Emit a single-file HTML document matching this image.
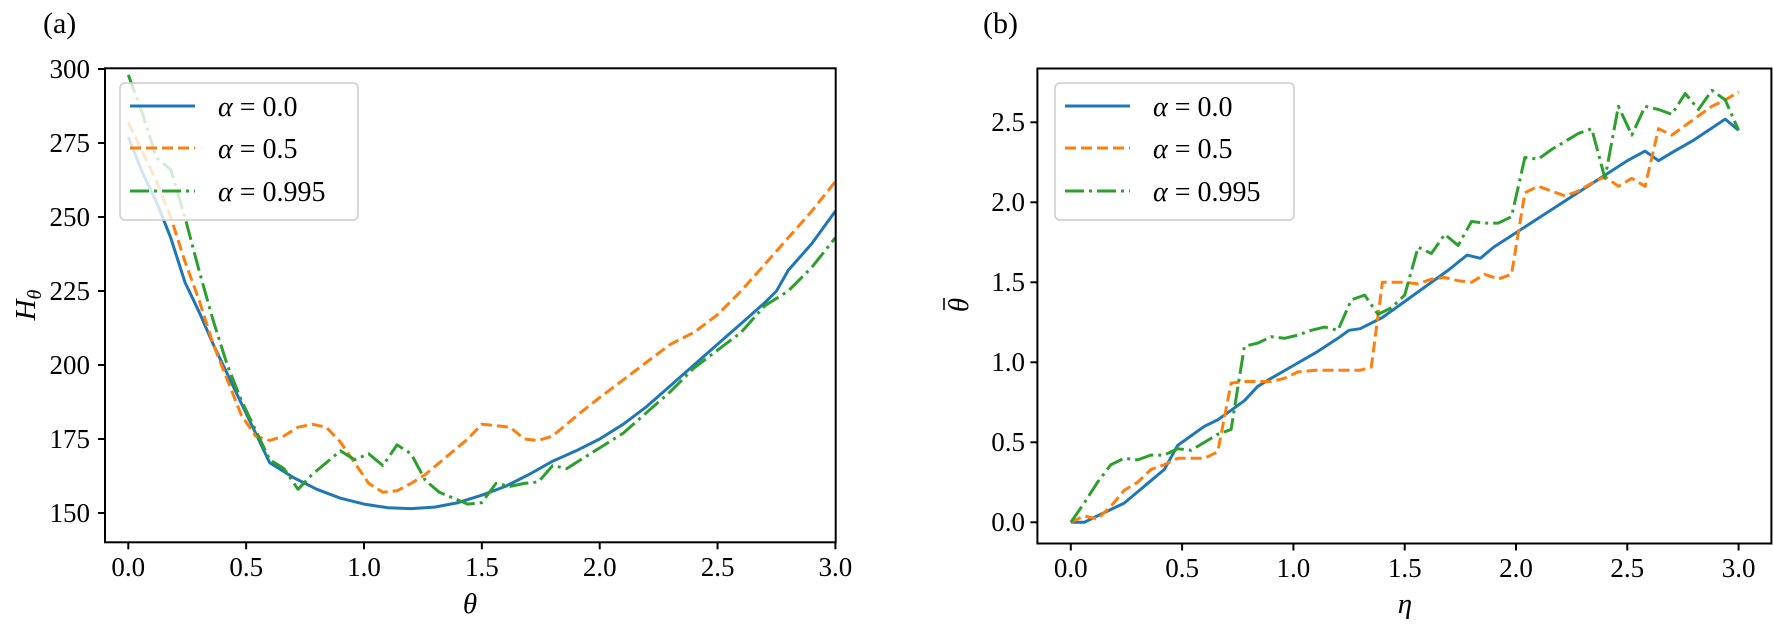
<!DOCTYPE html>
<html><head><meta charset="utf-8"><style>
body{margin:0;background:#fff;}
svg{display:block;font-family:"Liberation Serif","DejaVu Serif",serif;}
</style></head><body>
<svg id="s" width="1773" height="624" viewBox="0 0 1773 624" xmlns="http://www.w3.org/2000/svg">
<rect width="1773" height="624" fill="#fff"/>
<g id="lines"></g>
<g>
<rect x="120" y="83" width="238" height="137" rx="5" fill="#fff" fill-opacity="0.8" stroke="#ccc" stroke-width="1.5"/>
<line x1="130" y1="106" x2="195" y2="106" stroke="#1f77b4" stroke-width="3"/>
<line x1="130" y1="148" x2="195" y2="148" stroke="#ff7f0e" stroke-width="3" stroke-dasharray="11,5"/>
<line x1="130" y1="191" x2="195" y2="191" stroke="#2ca02c" stroke-width="3" stroke-dasharray="19,5,3,5"/>
<g font-size="28" xml:space="preserve"><text x="218" y="116"><tspan font-style="italic">α</tspan>  =  0.0</text>
<text x="218" y="158"><tspan font-style="italic">α</tspan>  =  0.5</text>
<text x="218" y="201"><tspan font-style="italic">α</tspan>  =  0.995</text></g>
<rect x="1055" y="83" width="239" height="137" rx="5" fill="#fff" fill-opacity="0.8" stroke="#ccc" stroke-width="1.5"/>
<line x1="1065" y1="106" x2="1130" y2="106" stroke="#1f77b4" stroke-width="3"/>
<line x1="1065" y1="148" x2="1130" y2="148" stroke="#ff7f0e" stroke-width="3" stroke-dasharray="11,5"/>
<line x1="1065" y1="191" x2="1130" y2="191" stroke="#2ca02c" stroke-width="3" stroke-dasharray="19,5,3,5"/>
<g font-size="28" xml:space="preserve"><text x="1153" y="116"><tspan font-style="italic">α</tspan>  =  0.0</text>
<text x="1153" y="158"><tspan font-style="italic">α</tspan>  =  0.5</text>
<text x="1153" y="201"><tspan font-style="italic">α</tspan>  =  0.995</text></g>
</g>
<rect x="105" y="68.3" width="730.7" height="474" fill="none" stroke="#000" stroke-width="2"/>
<rect x="1037.4" y="68.5" width="734" height="475" fill="none" stroke="#000" stroke-width="2"/>
<g id="ticks" stroke="#000" stroke-width="2"></g>
<g font-size="27" text-anchor="middle">
<text x="128.3" y="576">0.0</text><text x="246.2" y="576">0.5</text><text x="364" y="576">1.0</text><text x="481.9" y="576">1.5</text><text x="599.7" y="576">2.0</text><text x="717.6" y="576">2.5</text><text x="835.4" y="576">3.0</text>
<text x="1070.8" y="577">0.0</text><text x="1182.1" y="577">0.5</text><text x="1293.4" y="577">1.0</text><text x="1404.7" y="577">1.5</text><text x="1516" y="577">2.0</text><text x="1627.3" y="577">2.5</text><text x="1738.6" y="577">3.0</text>
</g>
<g font-size="27" text-anchor="end">
<text x="90" y="522">150</text><text x="90" y="448">175</text><text x="90" y="374">200</text><text x="90" y="300">225</text><text x="90" y="226">250</text><text x="90" y="152">275</text><text x="90" y="78">300</text>
<text x="1025" y="531">0.0</text><text x="1025" y="451">0.5</text><text x="1025" y="371">1.0</text><text x="1025" y="291">1.5</text><text x="1025" y="211">2.0</text><text x="1025" y="131">2.5</text>
</g>
<text x="470" y="613" font-size="29" font-style="italic" text-anchor="middle">θ</text>
<text x="1405" y="613" font-size="29" font-style="italic" text-anchor="middle">η</text>
<text transform="translate(35,305) rotate(-90)" font-size="29" text-anchor="middle"><tspan font-style="italic">H</tspan><tspan font-size="20" font-style="italic" dy="6">θ</tspan></text>
<g transform="translate(968,305) rotate(-90)">
<text x="0" y="0" font-size="29" font-style="italic" text-anchor="middle">θ</text>
<line x1="-5" y1="-24" x2="7" y2="-24" stroke="#000" stroke-width="1.6"/>
</g>
<text x="43" y="33" font-size="30">(a)</text>
<text x="983" y="33" font-size="30">(b)</text>
</svg>
<script>
var NS="http://www.w3.org/2000/svg";
function pl(pts,fx,fy,col,dash,parent){var p=document.createElementNS(NS,"polyline");
p.setAttribute("points",pts.map(function(d){return fx(d[0]).toFixed(1)+","+fy(d[1]).toFixed(1)}).join(" "));
p.setAttribute("fill","none");p.setAttribute("stroke",col);p.setAttribute("stroke-width","3");p.setAttribute("stroke-linejoin","round");
if(dash)p.setAttribute("stroke-dasharray",dash);parent.appendChild(p);}
var g=document.getElementById("lines");
var LX=function(t){return 128.3+235.7*t},LY=function(v){return 513-2.96*(v-150)};
var RX=function(t){return 1070.8+222.6*t},RY=function(v){return 522.3-160*v};
var lb=[[0,277],[.06,265],[.12,255],[.18,243],[.24,228],[.3,218],[.36,207],[.42,197],[.48,187],[.54,177],[.6,167],[.7,162],[.8,158],[.9,155],[1,153],[1.1,151.8],[1.2,151.5],[1.3,152],[1.4,153.5],[1.5,156],[1.6,159],[1.7,163],[1.8,167.5],[1.9,171],[2,175],[2.1,180],[2.2,186],[2.3,193],[2.4,200],[2.5,207],[2.6,214],[2.7,221],[2.75,225],[2.8,232],[2.9,241],[3,252]];
var lo=[[0,282],[.06,272],[.12,262],[.18,250],[.24,235],[.3,222],[.36,207],[.42,195],[.48,183],[.54,176],[.6,174.5],[.66,176],[.72,179],[.78,180],[.84,179],[.9,174],[.96,167],[1.02,160],[1.08,157],[1.14,157.5],[1.2,160],[1.26,163],[1.32,167],[1.38,171],[1.44,175],[1.5,180],[1.56,179.5],[1.62,179],[1.68,175],[1.74,174.5],[1.8,176],[1.86,180],[1.92,184],[2,189],[2.1,195],[2.2,201],[2.3,207],[2.4,211],[2.5,217],[2.6,225],[2.7,234],[2.8,243],[2.9,252],[3,262]];
var lg=[[0,298],[.06,285],[.12,270],[.18,266],[.24,250],[.3,232],[.36,215],[.42,200],[.48,188],[.54,178],[.6,168],[.66,165],[.72,158],[.78,163],[.84,167],[.9,171],[.96,168],[1.02,170],[1.08,166],[1.14,173],[1.2,170],[1.26,161],[1.32,157],[1.38,155],[1.44,153],[1.5,153.5],[1.56,160],[1.62,159],[1.68,160],[1.74,160.5],[1.8,166],[1.86,165],[1.92,168],[2,172],[2.1,177],[2.2,184],[2.3,191],[2.4,199],[2.5,205],[2.6,211],[2.7,220],[2.8,225],[2.9,233],[3,243]];
var rb=[[0,0],[.06,0],[.12,.04],[.24,.12],[.3,.19],[.36,.26],[.42,.33],[.48,.48],[.54,.54],[.6,.6],[.66,.64],[.72,.7],[.78,.76],[.84,.85],[.9,.9],[1,.98],[1.1,1.06],[1.2,1.15],[1.25,1.2],[1.3,1.21],[1.4,1.28],[1.5,1.38],[1.6,1.48],[1.7,1.58],[1.78,1.67],[1.84,1.65],[1.9,1.72],[2,1.81],[2.1,1.9],[2.2,1.99],[2.3,2.08],[2.4,2.17],[2.5,2.26],[2.58,2.32],[2.64,2.26],[2.7,2.31],[2.8,2.39],[2.94,2.52],[3,2.45]];
var ro=[[0,0],[.06,.04],[.12,.02],[.18,.1],[.24,.2],[.3,.25],[.36,.33],[.42,.36],[.48,.4],[.54,.4],[.6,.4],[.66,.44],[.72,.87],[.78,.88],[.84,.88],[.9,.88],[.96,.9],[1.02,.94],[1.1,.95],[1.2,.95],[1.3,.95],[1.35,.97],[1.4,1.5],[1.5,1.5],[1.56,1.49],[1.62,1.52],[1.68,1.53],[1.74,1.51],[1.8,1.5],[1.86,1.55],[1.92,1.52],[1.98,1.55],[2.04,2.06],[2.1,2.1],[2.16,2.07],[2.22,2.04],[2.28,2.07],[2.34,2.12],[2.4,2.16],[2.46,2.1],[2.52,2.15],[2.58,2.1],[2.64,2.46],[2.7,2.42],[2.76,2.48],[2.82,2.54],[2.88,2.6],[2.94,2.64],[3,2.69]];
var rg=[[0,0],[.06,.12],[.12,.25],[.18,.36],[.24,.4],[.3,.39],[.36,.42],[.42,.42],[.48,.46],[.54,.45],[.6,.5],[.66,.55],[.72,.58],[.78,1.1],[.84,1.12],[.9,1.16],[.96,1.15],[1.02,1.17],[1.08,1.2],[1.14,1.22],[1.2,1.2],[1.26,1.39],[1.32,1.42],[1.38,1.3],[1.44,1.34],[1.5,1.42],[1.56,1.72],[1.62,1.68],[1.68,1.8],[1.74,1.73],[1.8,1.88],[1.86,1.87],[1.92,1.87],[1.98,1.91],[2.04,2.28],[2.1,2.27],[2.16,2.33],[2.22,2.38],[2.28,2.43],[2.34,2.46],[2.4,2.15],[2.46,2.6],[2.52,2.42],[2.58,2.6],[2.64,2.58],[2.7,2.55],[2.76,2.68],[2.82,2.58],[2.88,2.7],[2.94,2.64],[3,2.45]];
pl(lb,LX,LY,"#1f77b4",null,g);pl(lo,LX,LY,"#ff7f0e","11,5",g);pl(lg,LX,LY,"#2ca02c","19,5,3,5",g);
pl(rb,RX,RY,"#1f77b4",null,g);pl(ro,RX,RY,"#ff7f0e","11,5",g);pl(rg,RX,RY,"#2ca02c","19,5,3,5",g);
var t=document.getElementById("ticks");
function ln(a,b,c,d){var l=document.createElementNS(NS,"line");l.setAttribute("x1",a);l.setAttribute("y1",b);l.setAttribute("x2",c);l.setAttribute("y2",d);t.appendChild(l);}
for(var i=0;i<=6;i++){var x=LX(i*.5);ln(x,542.3,x,549.3);var y=LY(150+25*i);ln(105,y,98,y);
var x2=RX(i*.5);ln(x2,543.5,x2,550.5);if(i<6){var y2=RY(i*.5);ln(1037.4,y2,1030.4,y2);}}
</script>
</body></html>
